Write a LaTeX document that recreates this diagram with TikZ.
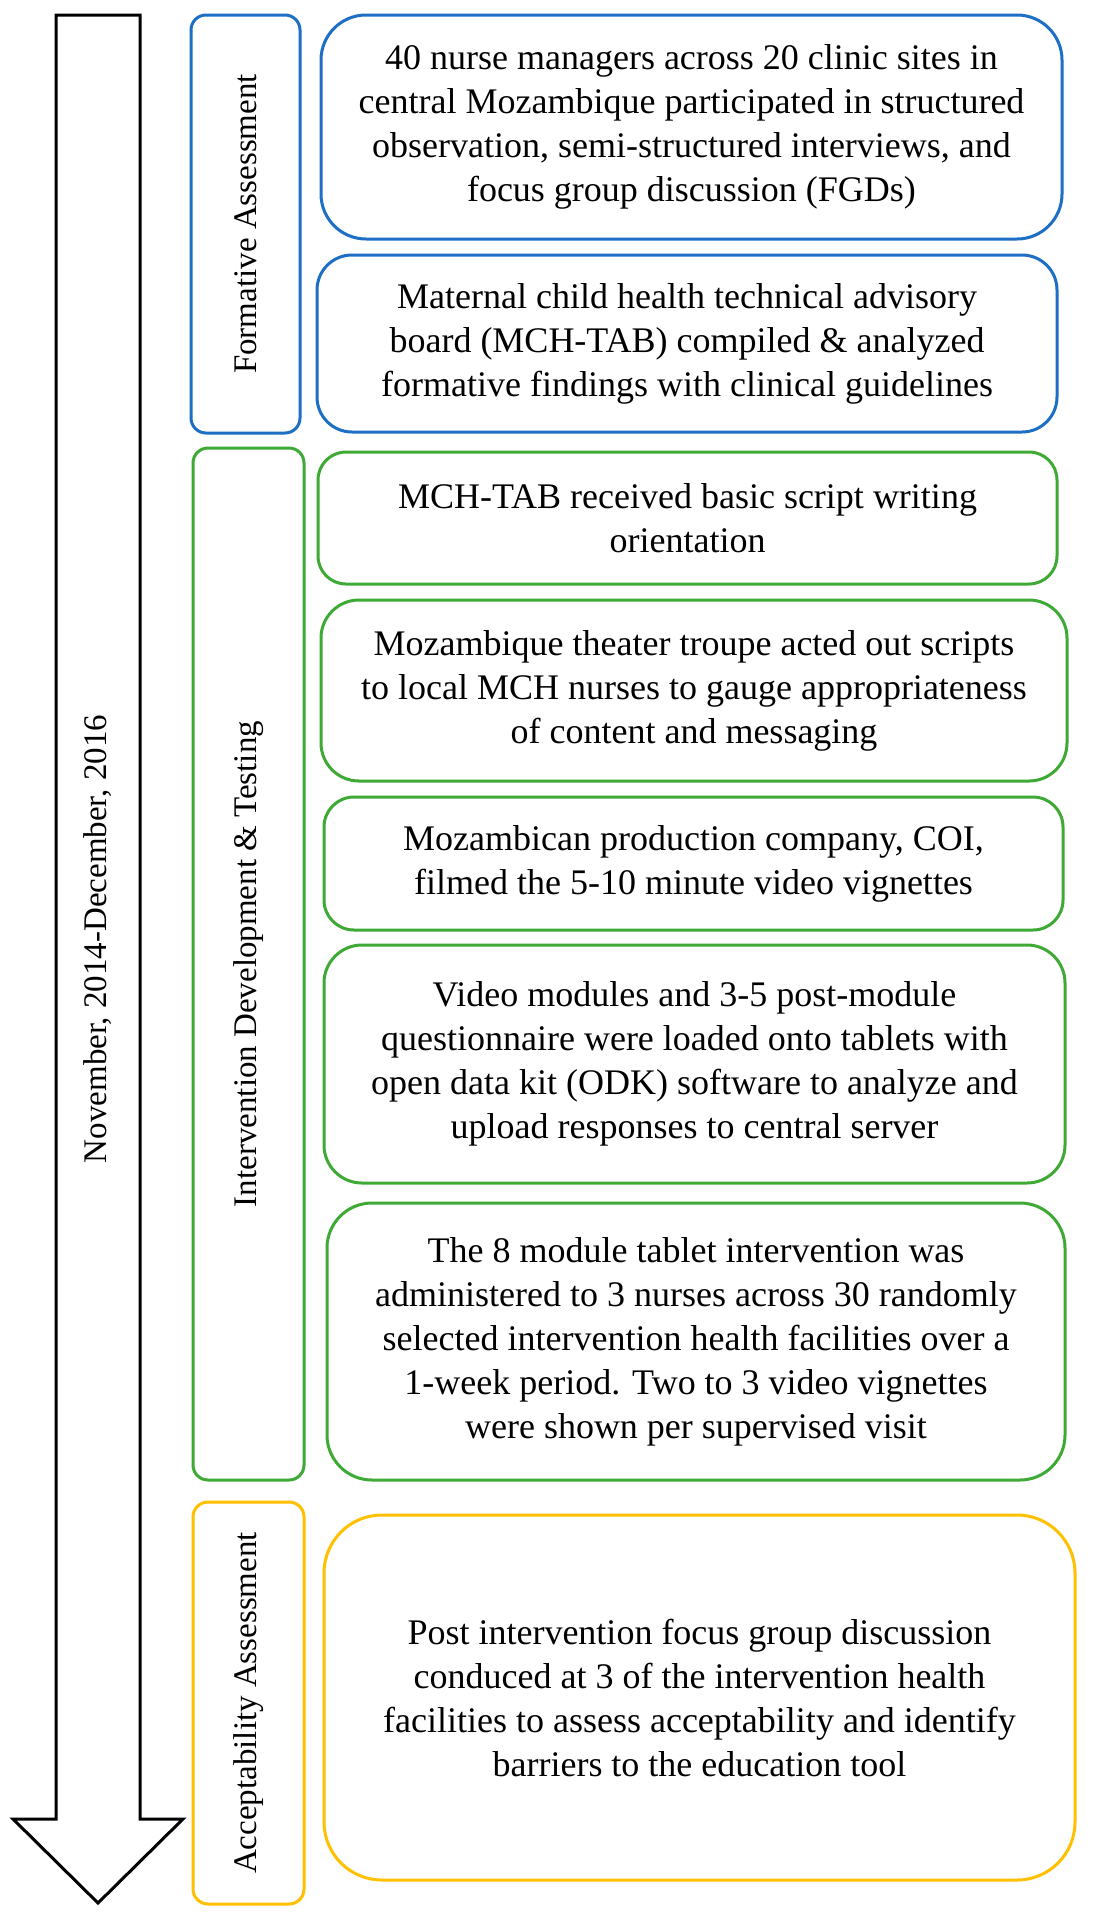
\documentclass[tikz,border=0pt]{standalone}
\usepackage{fontspec}
\setmainfont{Liberation Serif}
\definecolor{blueC}{RGB}{28,111,196}
\definecolor{greenC}{RGB}{62,170,53}
\definecolor{yellowC}{RGB}{255,192,0}
\tikzset{
  rbox/.style={draw, line width=3pt, align=center, inner sep=0pt,
    font=\fontsize{36}{44}\selectfont},
  lbox/.style={draw, line width=3pt, rounded corners=15pt, inner sep=0pt,
    rotate=90, font=\fontsize{33}{40}\selectfont},
  datetext/.style={rotate=90, inner sep=0pt, font=\fontsize{33}{40}\selectfont},
  bigarrow/.style={draw=black, line width=3pt, miter limit=10, line join=miter, fill=white},
}
\begin{document}
\begin{tikzpicture}[x=1pt,y=-1pt]
\useasboundingbox (0,0) rectangle (1093,1920);
\fill[white] (0,0) rectangle (1093,1920);

% timeline arrow
\draw[bigarrow] (56,15) -- (140,15) -- (140,1819) -- (183,1819) -- (98,1903)
  -- (13,1819) -- (56,1819) -- cycle;
\node[datetext] (date) at (98,939) {November, 2014-December, 2016};

% phase labels
\node[lbox, draw=blueC, minimum width=418pt, minimum height=109pt] (fa) at (245.5,224) {Formative Assessment};
\node[lbox, draw=greenC, minimum width=1032pt, minimum height=111pt] (idt) at (248.5,964) {Intervention Development \& Testing};
\node[lbox, draw=yellowC, minimum width=402pt, minimum height=111pt] (aa) at (248.5,1703) {Acceptability Assessment};

% step boxes
\node[rbox, draw=blueC, rounded corners=45pt, minimum width=741pt, minimum height=224pt] (b1) at (691.5,127)
  {40 nurse managers across 20 clinic sites in\\central Mozambique participated in structured\\observation, semi-structured interviews, and\\focus group discussion (FGDs)};
\node[rbox, draw=blueC, rounded corners=35pt, minimum width=740pt, minimum height=177pt] (b2) at (687,343.5)
  {Maternal child health technical advisory\\board (MCH-TAB) compiled \& analyzed\\formative findings with clinical guidelines};
\node[rbox, draw=greenC, rounded corners=28pt, minimum width=739pt, minimum height=132pt] (b3) at (687.5,518)
  {MCH-TAB received basic script writing\\orientation};
\node[rbox, draw=greenC, rounded corners=38pt, minimum width=746pt, minimum height=181pt] (b4) at (694,690.5)
  {Mozambique theater troupe acted out scripts\\to local MCH nurses to gauge appropriateness\\of content and messaging};
\node[rbox, draw=greenC, rounded corners=30pt, minimum width=739pt, minimum height=133pt] (b5) at (693.5,863.5)
  {Mozambican production company, COI,\\filmed the 5-10 minute video vignettes};
\node[rbox, draw=greenC, rounded corners=38pt, minimum width=741pt, minimum height=238pt] (b6) at (694.5,1064)
  {Video modules and 3-5 post-module\\questionnaire were loaded onto tablets with\\open data kit (ODK) software to analyze and\\upload responses to central server};
\node[rbox, draw=greenC, rounded corners=45pt, minimum width=738pt, minimum height=277pt] (b7) at (696,1341.5)
  {The 8 module tablet intervention was\\administered to 3 nurses across 30 randomly\\selected intervention health facilities over a\\1-week period. Two to 3 video vignettes\\were shown per supervised visit};
\node[rbox, draw=yellowC, rounded corners=58pt, minimum width=751pt, minimum height=365pt] (b8) at (699.5,1697.5)
  {Post intervention focus group discussion\\conduced at 3 of the intervention health\\facilities to assess acceptability and identify\\barriers to the education tool};
\end{tikzpicture}
\end{document}
